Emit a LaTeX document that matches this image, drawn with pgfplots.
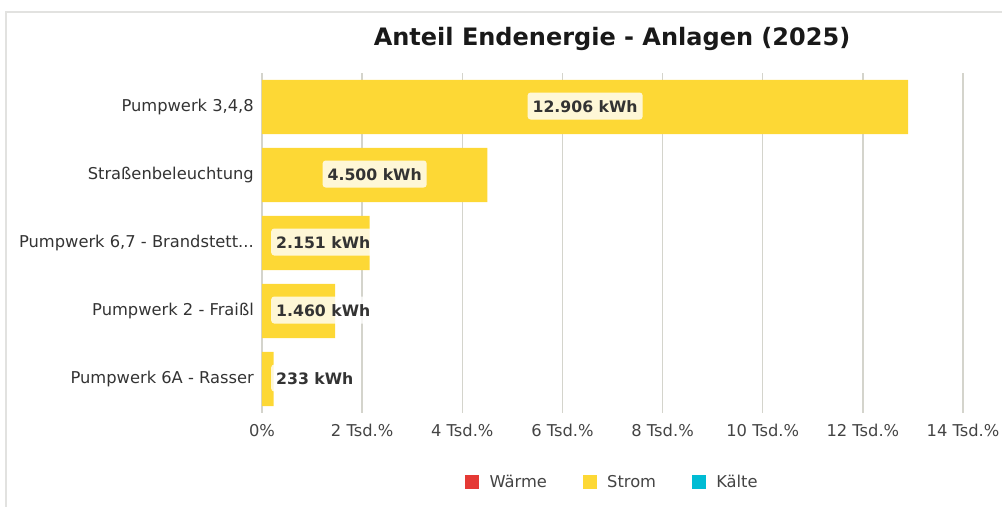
\documentclass[border=0pt]{standalone}
\usepackage{fontspec}
\setmainfont{DejaVu Sans}
\usepackage{pgfplots}
\pgfplotsset{compat=1.18}
\definecolor{strom}{HTML}{FDD835}
\definecolor{waerme}{HTML}{E53935}
\definecolor{kaelte}{HTML}{00BCD4}
\definecolor{gridc}{RGB}{212,212,204}
\definecolor{txt}{HTML}{333333}
\definecolor{ticktxt}{HTML}{444444}
\definecolor{framec}{RGB}{226,226,224}
\newcommand{\lblfont}{\fontsize{16.3}{19}\selectfont}
\newcommand{\boldfont}{\bfseries\fontsize{15.7}{19}\selectfont}
\newcommand{\catc}{Pumpwerk 6,7 - Brandstett.{}.{}.}
\begin{document}
\begin{tikzpicture}
\draw[framec, line width=2.5pt] (6.2pt,0pt) -- (6.2pt,494.8pt) -- (1002pt,494.8pt);
\node[font=\bfseries\fontsize{24}{28}\selectfont, text=black!90] at (612pt,468pt) {Anteil Endenergie - Anlagen (2025)};
\begin{axis}[
  at={(262pt,94pt)}, anchor=south west,
  scale only axis, width=701pt, height=340pt,
  xmin=0, xmax=14, ymin=-0.5, ymax=4.5, y dir=reverse,
  axis line style={draw=none},
  xtick={0,2,4,6,8,10,12,14},
  xticklabels={0\%,2 Tsd.\%,4 Tsd.\%,6 Tsd.\%,8 Tsd.\%,10 Tsd.\%,12 Tsd.\%,14 Tsd.\%},
  ytick={0,1,2,3,4},
  yticklabels={{Pumpwerk 3,4,8},{Straßenbeleuchtung},{\catc},{Pumpwerk 2 - Fraißl},{Pumpwerk 6A - Rasser}},
  major tick length=0pt,
  xmajorgrids, ymajorgrids=false,
  major grid style={gridc, line width=1.3pt},
  xticklabel style={font=\lblfont, text=ticktxt, anchor=north, inner sep=0pt, yshift=-11pt},
  yticklabel style={font=\lblfont, text=txt, anchor=east, inner sep=0pt, xshift=-8pt},
  legend style={at={(0.5,-0.203)}, anchor=center, draw=none, fill=none, font=\lblfont, text=ticktxt,
    legend columns=3, /tikz/every even column/.append style={column sep=34pt}},
  legend image code/.code={\fill[#1, draw=none] (0pt,-7pt) rectangle (14pt,7pt); \path (22pt,0pt);},
]
\addplot[xbar, bar width=0.8, fill=strom, draw=none, forget plot]
  coordinates {(12.906,0) (4.5,1) (2.151,2) (1.46,3) (0.233,4)};
\addplot[draw=none, forget plot, nodes near coords, point meta=explicit symbolic,
  every node near coord/.append style={font=\boldfont, text=txt, fill=white, fill opacity=0.8,
    text opacity=1, rounded corners=3pt, inner xsep=5pt, inner ysep=7.5pt, text height=12pt, text depth=0pt, anchor=center, yshift=1pt}]
  coordinates {(6.453,0) [12.906 kWh] (2.25,1) [4.500 kWh]};
\addplot[draw=none, forget plot, nodes near coords, point meta=explicit symbolic,
  every node near coord/.append style={font=\boldfont, text=txt, fill=white, fill opacity=0.8,
    text opacity=1, rounded corners=3pt, inner xsep=5pt, inner ysep=7.5pt, text height=12pt, text depth=0pt, anchor=west, xshift=9pt, yshift=1pt}]
  coordinates {(0,2) [2.151 kWh] (0,3) [1.460 kWh] (0,4) [233 kWh]};
\addlegendimage{fill=waerme}
\addlegendentry{Wärme}
\addlegendimage{fill=strom}
\addlegendentry{Strom}
\addlegendimage{fill=kaelte}
\addlegendentry{Kälte}
\end{axis}
\pgfresetboundingbox
\path[use as bounding box] (0pt,0pt) rectangle (1002pt,507pt);
\end{tikzpicture}
\end{document}
